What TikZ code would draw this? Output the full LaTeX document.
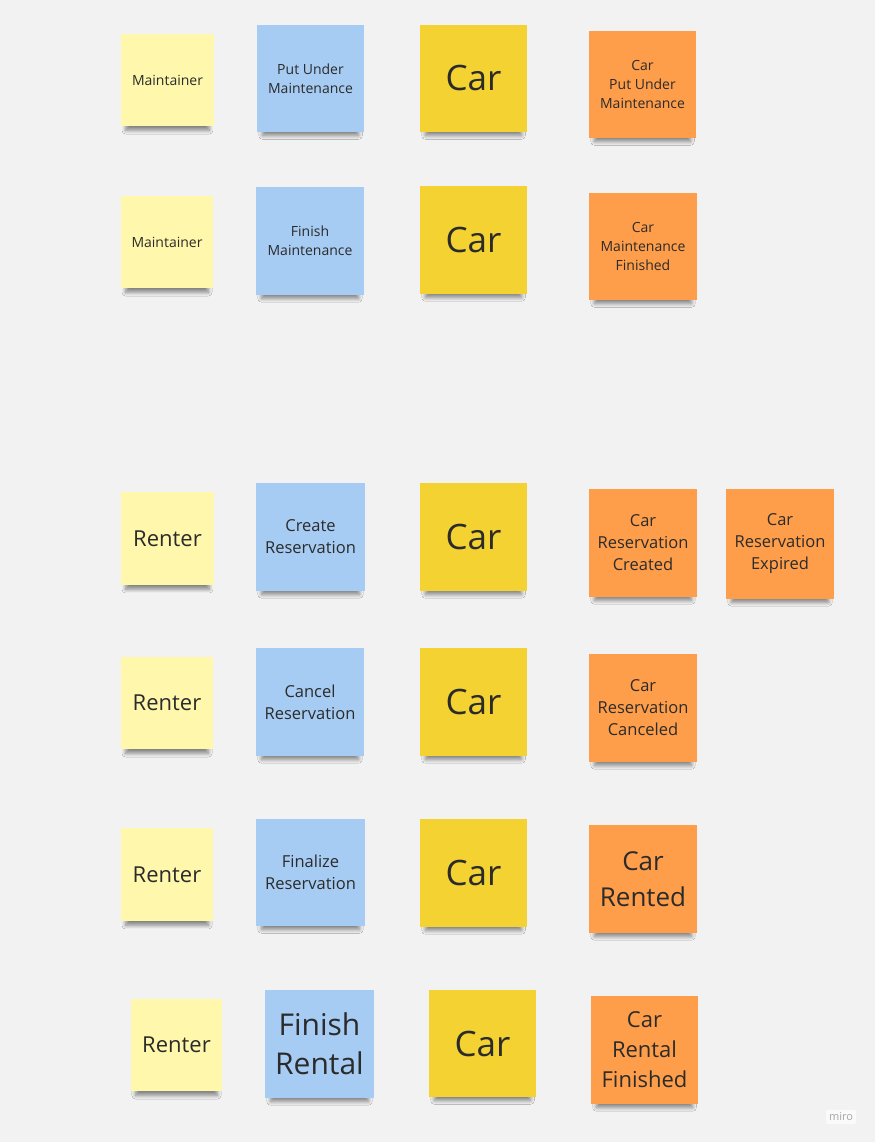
\documentclass[tikz,border=0pt]{standalone}
\usepackage{fontspec}
\setmainfont{Open Sans}
\usetikzlibrary{shadows.blur}
\definecolor{bg}{HTML}{F2F2F2}
\definecolor{ylight}{HTML}{FFF8AC}
\definecolor{bluest}{HTML}{A7CCF4}
\definecolor{ydark}{HTML}{F3D231}
\definecolor{orng}{HTML}{FF9E4A}
\definecolor{txt}{HTML}{2B2B2B}
\tikzset{
  sticky/.style={rectangle, inner sep=2pt, align=center, text=txt,
    blur shadow={shadow xshift=0pt, shadow yshift=-10pt, shadow scale=0.9, shadow blur radius=4pt, shadow blur steps=8, shadow opacity=45}},
  actor/.style={sticky, fill=ylight},
  command/.style={sticky, fill=bluest},
  aggr/.style={sticky, fill=ydark},
  event/.style={sticky, fill=orng},
  fs/.style n args={2}{font=\fontsize{#1}{#2}\selectfont}
}
\begin{document}
\begin{tikzpicture}[x=1pt,y=-1pt]
\fill[bg] (0,0) rectangle (875,1142);
\useasboundingbox (0,0) rectangle (875,1142);
% Row 1
\node[actor, fs={14}{19}, minimum width=93pt, minimum height=92pt] (m1) at (167.5,80) {Maintainer};
\node[command, fs={14}{19}, minimum width=107pt, minimum height=107pt] (p1) at (310.5,78.5) {Put Under\\Maintenance};
\node[aggr, fs={35}{40}, minimum width=107pt, minimum height=107pt] (c1) at (473.5,78.5) {Car};
\node[event, fs={14}{19}, minimum width=107pt, minimum height=107pt] (e1) at (642.5,84.5) {Car\\Put Under\\Maintenance};
% Row 2
\node[actor, fs={14}{19}, minimum width=92pt, minimum height=92pt] (m2) at (167,242) {Maintainer};
\node[command, fs={14}{19}, minimum width=108pt, minimum height=108pt] (p2) at (310,241) {Finish\\Maintenance};
\node[aggr, fs={35}{40}, minimum width=107pt, minimum height=108pt] (c2) at (473.5,240) {Car};
\node[event, fs={14}{19}, minimum width=108pt, minimum height=107pt] (e2) at (643,246.5) {Car\\Maintenance\\Finished};
% Row 3
\node[actor, fs={22}{26}, minimum width=93pt, minimum height=93pt] (m3) at (167.5,538.5) {Renter};
\node[command, fs={16.5}{22}, minimum width=109pt, minimum height=108pt] (p3) at (310.5,537) {Create\\Reservation};
\node[aggr, fs={35}{40}, minimum width=107pt, minimum height=108pt] (c3) at (473.5,537) {Car};
\node[event, fs={16.5}{22}, minimum width=108pt, minimum height=108pt] (e3) at (643,543) {Car\\Reservation\\Created};
\node[event, fs={16.5}{22}, minimum width=108pt, minimum height=110pt] (x3) at (780,544) {Car\\Reservation\\Expired};
% Row 4
\node[actor, fs={22}{26}, minimum width=92pt, minimum height=92pt] (m4) at (167,703) {Renter};
\node[command, fs={16.5}{22}, minimum width=108pt, minimum height=108pt] (p4) at (310,702) {Cancel\\Reservation};
\node[aggr, fs={35}{40}, minimum width=107pt, minimum height=108pt] (c4) at (473.5,702) {Car};
\node[event, fs={16.5}{22}, minimum width=108pt, minimum height=108pt] (e4) at (643,708) {Car\\Reservation\\Canceled};
% Row 5
\node[actor, fs={22}{26}, minimum width=92pt, minimum height=93pt] (m5) at (167,874.5) {Renter};
\node[command, fs={16.5}{22}, minimum width=109pt, minimum height=107pt] (p5) at (310.5,872.5) {Finalize\\Reservation};
\node[aggr, fs={35}{40}, minimum width=107pt, minimum height=108pt] (c5) at (473.5,873) {Car};
\node[event, fs={26}{36}, minimum width=108pt, minimum height=108pt] (e5) at (643,879) {Car\\Rented};
% Row 6
\node[actor, fs={22}{26}, minimum width=91pt, minimum height=92pt] (m6) at (176.5,1045) {Renter};
\node[command, fs={30}{39}, minimum width=109pt, minimum height=108pt] (p6) at (319.5,1044) {Finish\\Rental};
\node[aggr, fs={35}{40}, minimum width=107pt, minimum height=107pt] (c6) at (482.5,1043.5) {Car};
\node[event, fs={22}{30}, minimum width=107pt, minimum height=108pt] (e6) at (644.5,1050) {Car\\Rental\\Finished};
% logo
\node[fill=white!60!bg, rounded corners=2pt, text=black!35, font=\fontsize{11}{13}\selectfont, inner sep=3pt] (logo) at (841,1117) {miro};
\end{tikzpicture}
\end{document}
